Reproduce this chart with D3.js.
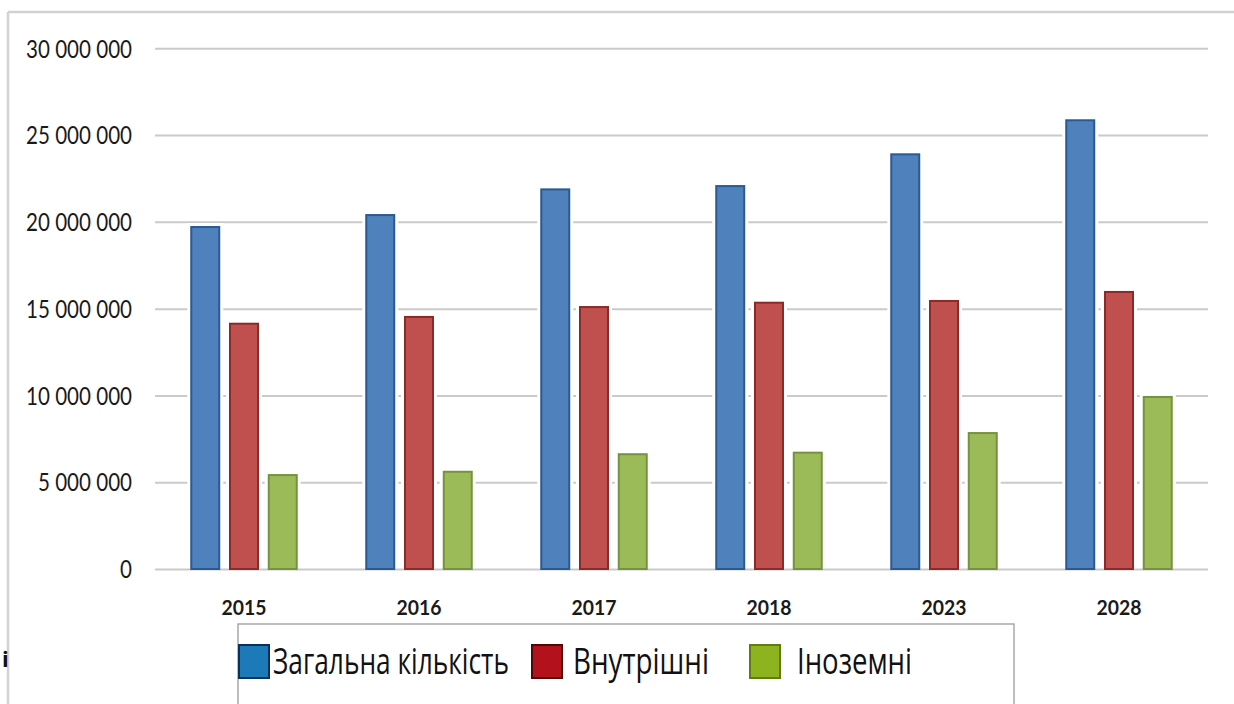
<!DOCTYPE html>
<html>
<head>
<meta charset="utf-8">
<script src="https://cdn.jsdelivr.net/npm/d3@7"></script>
<style>
  html, body { margin: 0; padding: 0; background: #fff; }
  svg { display: block; }
</style>
</head>
<body>
<svg id="chart" width="1234" height="704"></svg>
<script>
// ---- data ----
const categories = ["2015", "2016", "2017", "2018", "2023", "2028"];
const seriesNames = ["Загальна кількість", "Внутрішні", "Іноземні"];
const totalValues    = [19760000, 20450000, 21930000, 22120000, 23950000, 25910000];
const domesticValues = [14190000, 14580000, 15150000, 15400000, 15500000, 16020000];
const foreignValues  = [5470000, 5660000, 6670000, 6760000, 7890000, 9970000];
const yTickValues = [0, 5000000, 10000000, 15000000, 20000000, 25000000, 30000000];

// ---- styling ----
const barFill   = ["#4f81bd", "#c0504d", "#9bbb59"];
const barStroke = ["#2a5a92", "#8c2a28", "#76923c"];
const legFill   = ["#1d7ab9", "#b3121d", "#8db41e"];
const legStroke = ["#0c2f5c", "#4e0808", "#5e7c12"];
const numFont = "Lato, 'Open Sans', 'Noto Sans', sans-serif";
const txtFont = "'Open Sans', 'Noto Sans', sans-serif";

const svg = d3.select("#chart");
const W = 1234, H = 704;
svg.append("rect").attr("width", W).attr("height", H).attr("fill", "#fff");

// helper: measure text width at a given font
function measure(str, family, size, weight) {
  const t = svg.append("text").attr("font-family", family).attr("font-size", size)
    .attr("font-weight", weight || "normal").text(str);
  const w = t.node().getComputedTextLength();
  t.remove();
  return w;
}

// outer frame (top & left visible)
svg.append("line").attr("x1", 8).attr("x2", W).attr("y1", 12).attr("y2", 12)
  .attr("stroke", "#d2d2d2").attr("stroke-width", 2.5);
svg.append("line").attr("x1", 8).attr("x2", 8).attr("y1", 12).attr("y2", H)
  .attr("stroke", "#d2d2d2").attr("stroke-width", 2.5);

const plotLeft = 155, plotRight = 1208;
const y = d3.scaleLinear().domain([0, 30000000]).range([569, 48.3]);
const x0 = d3.scaleBand().domain(categories).range([156.5, 1206.5]).paddingInner(0).paddingOuter(0);
const x1 = d3.scaleBand().domain(seriesNames).range([-53.75, 53.75]).paddingInner(0.226).paddingOuter(0);

const fmt = v => d3.format(",")(v).replace(/,/g, "\u00a0");

// y axis with gridlines
const yFs = 20 * 106 / measure(fmt(30000000), numFont, 20);
const ySy = 17.5 / (0.72 * yFs);
const yAxis = d3.axisLeft(y).tickValues(yTickValues).tickFormat(fmt)
  .tickSize(-(plotRight - plotLeft)).tickPadding(23);
const gy = svg.append("g").attr("transform", `translate(${plotLeft},0)`).call(yAxis);
gy.select(".domain").remove();
gy.selectAll(".tick line").attr("stroke", "#cacaca").attr("stroke-width", 2);
gy.selectAll(".tick text").attr("font-family", numFont).attr("font-size", yFs)
  .attr("fill", "#1a1a1a").attr("dy", "0.36em")
  .attr("transform", `scale(1,${ySy})`);

// bars
const seriesValues = [totalValues, domesticValues, foreignValues];
const rows = [];
categories.forEach((c, i) => {
  seriesNames.forEach((s, j) => rows.push({ cat: c, ser: s, j: j, v: seriesValues[j][i] }));
});
const gBars = svg.append("g");
const bx = d => x0(d.cat) + x0.bandwidth() / 2 + x1(d.ser);
// white halo (gap in gridlines around bars)
gBars.selectAll("rect.halo").data(rows).join("rect").attr("class", "halo")
  .attr("x", d => bx(d) - 3).attr("width", x1.bandwidth() + 6)
  .attr("y", d => y(d.v) - 3).attr("height", d => y(0) - y(d.v) + 1)
  .attr("fill", "#fff");
gBars.selectAll("rect.bar").data(rows).join("rect").attr("class", "bar")
  .attr("x", d => bx(d) + 1).attr("width", x1.bandwidth() - 2)
  .attr("y", d => y(d.v) + 1).attr("height", d => y(0) - y(d.v) - 1)
  .attr("fill", d => barFill[d.j]).attr("stroke", d => barStroke[d.j]).attr("stroke-width", 2);

// x axis labels
const xFs = 20 * 45 / measure("2015", numFont, 20, "bold");
const xSy = 15 / (0.72 * xFs);
const xAxis = d3.axisBottom(x0).tickSize(0).tickPadding(0);
const gx = svg.append("g").attr("transform", `translate(0,569)`).call(xAxis);
gx.select(".domain").remove();
gx.selectAll(".tick text").attr("font-family", numFont).attr("font-size", xFs)
  .attr("font-weight", "bold").attr("fill", "#1a1a1a")
  .attr("y", 0).attr("dy", 0)
  .attr("transform", `translate(0,${38 + 7.5}) scale(1,${xSy})`);

// legend box
svg.append("rect").attr("x", 238).attr("y", 624).attr("width", 776).attr("height", 100)
  .attr("fill", "#fff").attr("stroke", "#a8a8a8").attr("stroke-width", 1.5);

const legendItems = [
  { sx: 239, tx: 273, tw: 236 },
  { sx: 532, tx: 573, tw: 136 },
  { sx: 750, tx: 797, tw: 115 }
];
const gl = svg.append("g");
seriesNames.forEach((name, j) => {
  const it = legendItems[j];
  gl.append("rect").attr("x", it.sx).attr("y", 645).attr("width", 30).attr("height", 33)
    .attr("fill", legFill[j]).attr("stroke", legStroke[j]).attr("stroke-width", 2);
  const fs = 20 * it.tw / measure(name, txtFont, 20);
  const sy = 26.5 / (0.714 * fs);
  gl.append("text").attr("font-family", txtFont).attr("font-size", fs).attr("fill", "#111")
    .attr("transform", `translate(${it.tx},674) scale(1,${sy})`)
    .text(name);
});

// stray cut-off glyph at the left edge of the picture
svg.append("text").attr("x", 2).attr("y", 667).attr("font-family", txtFont)
  .attr("font-size", 22).attr("font-weight", "bold").attr("fill", "#111").text("і");
</script>
</body>
</html>
